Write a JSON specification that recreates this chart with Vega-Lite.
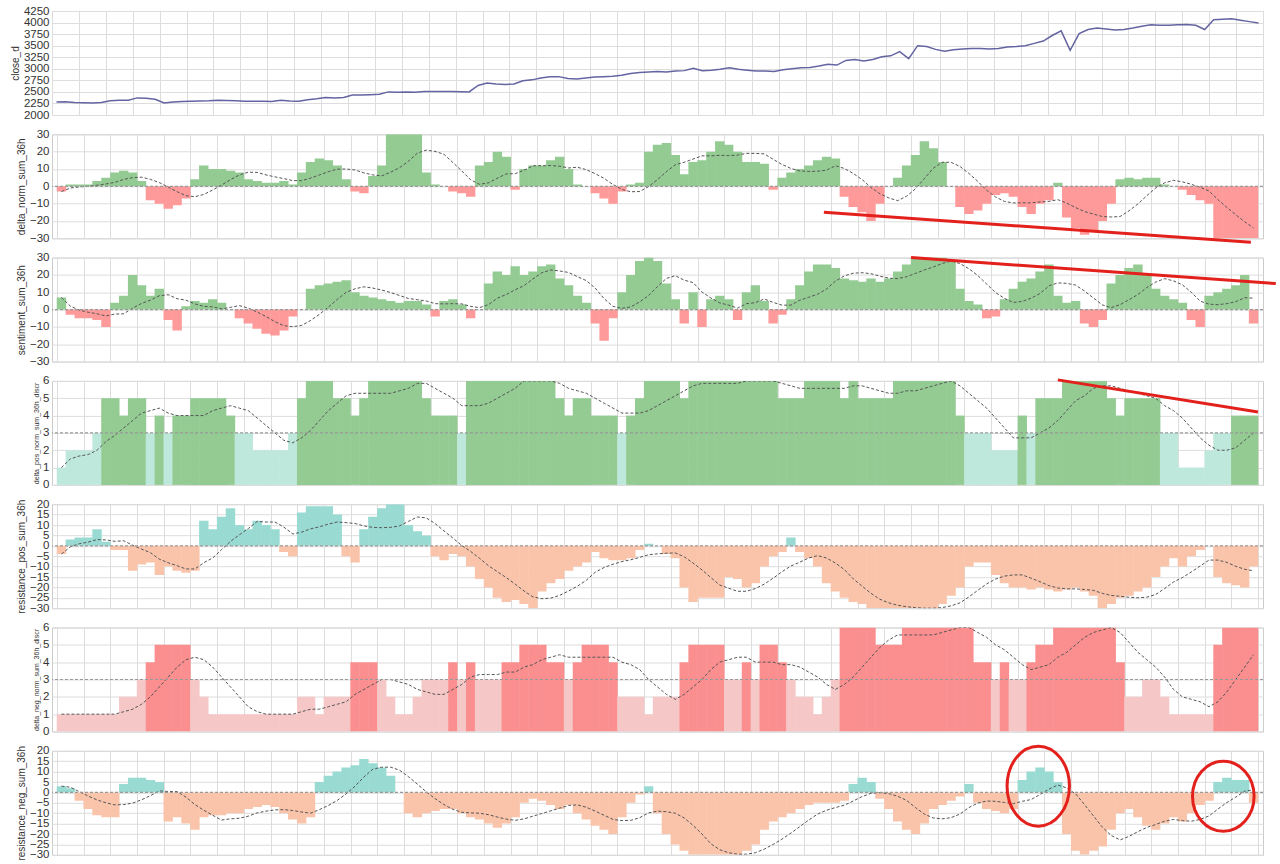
{
"$schema":"https://vega.github.io/schema/vega-lite/v6.json",
"background":"white",
"padding":{"left":9,"top":4,"right":0,"bottom":5},
"spacing":19.3,
"bounds":"flush",
"config":{
 "view":{"stroke":"#cccccc","strokeWidth":1},
 "font":"Liberation Sans",
 "axis":{"grid":true,"gridColor":"#dddddd","gridWidth":1,"domain":false,"ticks":false,"labelColor":"#333333","labelFontSize":11.5,"labelPadding":3,"labelOverlap":false,"labelBound":false,"titleFontWeight":"normal","titleColor":"#333333","titleFontSize":10,"titlePadding":3}
},
"datasets":{
"m":[
{"t":0,"c":2280,"d":-3,"s":7,"p":1,"r":-4,"n":1,"q":3},
{"t":1,"c":2285,"d":1,"s":-3,"p":2,"r":3,"n":1,"q":2},
{"t":2,"c":2270,"d":1,"s":-5,"p":2,"r":4,"n":1,"q":-4},
{"t":3,"c":2265,"d":1,"s":-5,"p":2,"r":4,"n":1,"q":-8},
{"t":4,"c":2260,"d":3,"s":-6,"p":3,"r":8,"n":1,"q":-11},
{"t":5,"c":2270,"d":5,"s":-10,"p":5,"r":2,"n":1,"q":-12},
{"t":6,"c":2310,"d":8,"s":4,"p":5,"r":-2,"n":1,"q":-12},
{"t":7,"c":2320,"d":9,"s":8,"p":4,"r":-2,"n":2,"q":4},
{"t":8,"c":2320,"d":8,"s":20,"p":5,"r":-12,"n":2,"q":7},
{"t":9,"c":2370,"d":3,"s":14,"p":5,"r":-9,"n":3,"q":7},
{"t":10,"c":2360,"d":-8,"s":8,"p":3,"r":-8,"n":4,"q":6},
{"t":11,"c":2340,"d":-10,"s":12,"p":4,"r":-14,"n":5,"q":5},
{"t":12,"c":2260,"d":-13,"s":-6,"p":3,"r":-10,"n":5,"q":-14},
{"t":13,"c":2280,"d":-11,"s":-12,"p":4,"r":-12,"n":5,"q":-12},
{"t":14,"c":2290,"d":-7,"s":2,"p":4,"r":-13,"n":5,"q":-15},
{"t":15,"c":2300,"d":4,"s":5,"p":5,"r":-12,"n":3,"q":-18},
{"t":16,"c":2305,"d":12,"s":4,"p":5,"r":12,"n":2,"q":-12},
{"t":17,"c":2310,"d":10,"s":6,"p":5,"r":8,"n":1,"q":-11},
{"t":18,"c":2320,"d":10,"s":4,"p":5,"r":14,"n":1,"q":-11},
{"t":19,"c":2315,"d":9,"s":0,"p":4,"r":18,"n":1,"q":-10},
{"t":20,"c":2310,"d":8,"s":-5,"p":3,"r":10,"n":1,"q":-10},
{"t":21,"c":2300,"d":4,"s":-8,"p":3,"r":8,"n":1,"q":-8},
{"t":22,"c":2300,"d":3,"s":-11,"p":2,"r":12,"n":1,"q":-7},
{"t":23,"c":2295,"d":2,"s":-14,"p":2,"r":10,"n":1,"q":-6},
{"t":24,"c":2290,"d":2,"s":-15,"p":2,"r":8,"n":1,"q":-7},
{"t":25,"c":2320,"d":3,"s":-12,"p":2,"r":-3,"n":1,"q":-10},
{"t":26,"c":2305,"d":1,"s":-4,"p":3,"r":-5,"n":1,"q":-13},
{"t":27,"c":2300,"d":8,"s":0,"p":5,"r":16,"n":2,"q":-15},
{"t":28,"c":2330,"d":14,"s":12,"p":6,"r":19,"n":2,"q":-12},
{"t":29,"c":2350,"d":16,"s":14,"p":6,"r":19,"n":1,"q":5},
{"t":30,"c":2380,"d":15,"s":15,"p":6,"r":19,"n":2,"q":8},
{"t":31,"c":2370,"d":12,"s":16,"p":5,"r":15,"n":2,"q":10},
{"t":32,"c":2380,"d":4,"s":17,"p":5,"r":-5,"n":2,"q":12},
{"t":33,"c":2430,"d":-3,"s":10,"p":4,"r":-8,"n":4,"q":13},
{"t":34,"c":2430,"d":-4,"s":8,"p":5,"r":8,"n":4,"q":16},
{"t":35,"c":2440,"d":6,"s":7,"p":6,"r":14,"n":4,"q":14},
{"t":36,"c":2450,"d":12,"s":6,"p":6,"r":18,"n":3,"q":12},
{"t":37,"c":2500,"d":30,"s":5,"p":6,"r":20,"n":2,"q":8},
{"t":38,"c":2490,"d":30,"s":4,"p":6,"r":20,"n":1,"q":0},
{"t":39,"c":2500,"d":30,"s":5,"p":6,"r":10,"n":1,"q":-10},
{"t":40,"c":2490,"d":30,"s":5,"p":6,"r":7,"n":2,"q":-12},
{"t":41,"c":2510,"d":8,"s":3,"p":5,"r":5,"n":3,"q":-10},
{"t":42,"c":2510,"d":1,"s":-4,"p":4,"r":-5,"n":3,"q":-9},
{"t":43,"c":2510,"d":0,"s":5,"p":4,"r":-7,"n":3,"q":-8},
{"t":44,"c":2510,"d":-3,"s":6,"p":4,"r":-4,"n":4,"q":-8},
{"t":45,"c":2505,"d":-4,"s":3,"p":3,"r":-5,"n":3,"q":-10},
{"t":46,"c":2500,"d":-6,"s":-5,"p":6,"r":-10,"n":4,"q":-12},
{"t":47,"c":2640,"d":12,"s":0,"p":6,"r":-16,"n":3,"q":-13},
{"t":48,"c":2690,"d":14,"s":15,"p":6,"r":-20,"n":3,"q":-15},
{"t":49,"c":2670,"d":20,"s":22,"p":6,"r":-25,"n":3,"q":-17},
{"t":50,"c":2660,"d":17,"s":20,"p":6,"r":-27,"n":4,"q":-15},
{"t":51,"c":2670,"d":-2,"s":25,"p":6,"r":-26,"n":4,"q":-12},
{"t":52,"c":2740,"d":10,"s":20,"p":6,"r":-28,"n":5,"q":-5},
{"t":53,"c":2760,"d":12,"s":22,"p":6,"r":-30,"n":5,"q":-3},
{"t":54,"c":2800,"d":12,"s":25,"p":6,"r":-22,"n":5,"q":-4},
{"t":55,"c":2830,"d":15,"s":26,"p":6,"r":-18,"n":4,"q":-6},
{"t":56,"c":2830,"d":17,"s":18,"p":5,"r":-16,"n":4,"q":-8},
{"t":57,"c":2790,"d":10,"s":14,"p":4,"r":-12,"n":3,"q":-6},
{"t":58,"c":2780,"d":1,"s":8,"p":5,"r":-10,"n":4,"q":-10},
{"t":59,"c":2800,"d":0,"s":4,"p":5,"r":-8,"n":5,"q":-13},
{"t":60,"c":2820,"d":-4,"s":-8,"p":4,"r":-3,"n":5,"q":-16},
{"t":61,"c":2830,"d":-7,"s":-18,"p":4,"r":-6,"n":5,"q":-18},
{"t":62,"c":2840,"d":-10,"s":-5,"p":4,"r":-7,"n":4,"q":-20},
{"t":63,"c":2860,"d":-3,"s":10,"p":3,"r":-7,"n":2,"q":-12},
{"t":64,"c":2900,"d":1,"s":20,"p":4,"r":-6,"n":2,"q":-5},
{"t":65,"c":2920,"d":2,"s":28,"p":5,"r":-2,"n":2,"q":-1},
{"t":66,"c":2930,"d":20,"s":30,"p":6,"r":1,"n":1,"q":3},
{"t":67,"c":2940,"d":24,"s":28,"p":6,"r":0,"n":2,"q":-10},
{"t":68,"c":2930,"d":25,"s":15,"p":6,"r":-4,"n":2,"q":-20},
{"t":69,"c":2950,"d":18,"s":6,"p":6,"r":-6,"n":2,"q":-25},
{"t":70,"c":2960,"d":7,"s":-8,"p":5,"r":-20,"n":4,"q":-28},
{"t":71,"c":3010,"d":14,"s":10,"p":6,"r":-27,"n":5,"q":-30},
{"t":72,"c":2960,"d":15,"s":-10,"p":6,"r":-25,"n":5,"q":-30},
{"t":73,"c":2970,"d":20,"s":6,"p":6,"r":-25,"n":5,"q":-30},
{"t":74,"c":2990,"d":26,"s":8,"p":6,"r":-25,"n":5,"q":-30},
{"t":75,"c":3020,"d":24,"s":6,"p":6,"r":-15,"n":3,"q":-30},
{"t":76,"c":2990,"d":20,"s":-6,"p":6,"r":-16,"n":3,"q":-30},
{"t":77,"c":2970,"d":14,"s":10,"p":6,"r":-20,"n":4,"q":-28},
{"t":78,"c":2950,"d":14,"s":14,"p":6,"r":-18,"n":3,"q":-25},
{"t":79,"c":2950,"d":13,"s":5,"p":6,"r":-10,"n":5,"q":-18},
{"t":80,"c":2940,"d":-2,"s":-8,"p":6,"r":-5,"n":5,"q":-14},
{"t":81,"c":2980,"d":5,"s":-3,"p":5,"r":-3,"n":4,"q":-12},
{"t":82,"c":3000,"d":8,"s":6,"p":5,"r":4,"n":3,"q":-10},
{"t":83,"c":3020,"d":10,"s":14,"p":5,"r":-3,"n":2,"q":-8},
{"t":84,"c":3030,"d":12,"s":22,"p":6,"r":-6,"n":2,"q":-6},
{"t":85,"c":3060,"d":15,"s":26,"p":6,"r":-10,"n":1,"q":-5},
{"t":86,"c":3100,"d":17,"s":26,"p":6,"r":-18,"n":2,"q":-5},
{"t":87,"c":3080,"d":16,"s":24,"p":6,"r":-22,"n":3,"q":-5},
{"t":88,"c":3180,"d":-6,"s":18,"p":5,"r":-25,"n":6,"q":-4},
{"t":89,"c":3200,"d":-12,"s":17,"p":6,"r":-27,"n":6,"q":4},
{"t":90,"c":3170,"d":-15,"s":16,"p":5,"r":-28,"n":6,"q":7},
{"t":91,"c":3200,"d":-20,"s":18,"p":5,"r":-30,"n":6,"q":5},
{"t":92,"c":3260,"d":-10,"s":16,"p":5,"r":-30,"n":5,"q":-3},
{"t":93,"c":3280,"d":0,"s":18,"p":5,"r":-30,"n":5,"q":-8},
{"t":94,"c":3370,"d":5,"s":22,"p":6,"r":-30,"n":5,"q":-14},
{"t":95,"c":3220,"d":12,"s":26,"p":6,"r":-30,"n":6,"q":-18},
{"t":96,"c":3500,"d":18,"s":30,"p":6,"r":-30,"n":6,"q":-20},
{"t":97,"c":3480,"d":26,"s":30,"p":6,"r":-30,"n":6,"q":-15},
{"t":98,"c":3420,"d":22,"s":30,"p":6,"r":-30,"n":6,"q":-8},
{"t":99,"c":3380,"d":14,"s":30,"p":6,"r":-28,"n":6,"q":-6},
{"t":100,"c":3410,"d":0,"s":28,"p":6,"r":-24,"n":6,"q":-4},
{"t":101,"c":3430,"d":-12,"s":12,"p":4,"r":-20,"n":6,"q":-2},
{"t":102,"c":3440,"d":-16,"s":5,"p":3,"r":-10,"n":6,"q":4},
{"t":103,"c":3440,"d":-14,"s":3,"p":3,"r":-8,"n":4,"q":-5},
{"t":104,"c":3430,"d":-10,"s":-5,"p":3,"r":-8,"n":4,"q":-8},
{"t":105,"c":3440,"d":-5,"s":-4,"p":2,"r":-14,"n":3,"q":-9},
{"t":106,"c":3470,"d":-4,"s":6,"p":2,"r":-18,"n":4,"q":-10},
{"t":107,"c":3480,"d":-6,"s":12,"p":2,"r":-20,"n":3,"q":-8},
{"t":108,"c":3500,"d":-12,"s":16,"p":4,"r":-20,"n":3,"q":6},
{"t":109,"c":3550,"d":-16,"s":18,"p":3,"r":-21,"n":4,"q":10},
{"t":110,"c":3600,"d":-10,"s":22,"p":5,"r":-20,"n":5,"q":12},
{"t":111,"c":3720,"d":-8,"s":26,"p":5,"r":-21,"n":5,"q":10},
{"t":112,"c":3820,"d":2,"s":8,"p":5,"r":-22,"n":6,"q":5},
{"t":113,"c":3400,"d":-18,"s":4,"p":6,"r":-21,"n":6,"q":-20},
{"t":114,"c":3760,"d":-24,"s":5,"p":6,"r":-20,"n":6,"q":-28},
{"t":115,"c":3850,"d":-28,"s":-8,"p":6,"r":-22,"n":6,"q":-30},
{"t":116,"c":3880,"d":-26,"s":-10,"p":6,"r":-24,"n":6,"q":-28},
{"t":117,"c":3860,"d":-20,"s":-6,"p":6,"r":-30,"n":6,"q":-26},
{"t":118,"c":3840,"d":-10,"s":15,"p":5,"r":-28,"n":6,"q":-18},
{"t":119,"c":3850,"d":4,"s":20,"p":4,"r":-25,"n":4,"q":-10},
{"t":120,"c":3880,"d":5,"s":24,"p":5,"r":-24,"n":2,"q":-8},
{"t":121,"c":3920,"d":4,"s":26,"p":5,"r":-22,"n":2,"q":-12},
{"t":122,"c":3950,"d":5,"s":20,"p":5,"r":-20,"n":3,"q":-16},
{"t":123,"c":3940,"d":5,"s":12,"p":5,"r":-15,"n":3,"q":-18},
{"t":124,"c":3940,"d":1,"s":8,"p":3,"r":-10,"n":2,"q":-15},
{"t":125,"c":3950,"d":0,"s":6,"p":3,"r":-6,"n":1,"q":-12},
{"t":126,"c":3960,"d":-2,"s":4,"p":1,"r":-10,"n":1,"q":-14},
{"t":127,"c":3940,"d":-5,"s":-6,"p":1,"r":-5,"n":1,"q":-10},
{"t":128,"c":3850,"d":-8,"s":-10,"p":1,"r":-2,"n":1,"q":-6},
{"t":129,"c":4060,"d":-10,"s":8,"p":2,"r":0,"n":1,"q":-4},
{"t":130,"c":4070,"d":-30,"s":10,"p":3,"r":-15,"n":5,"q":5},
{"t":131,"c":4080,"d":-30,"s":12,"p":3,"r":-18,"n":6,"q":7},
{"t":132,"c":4050,"d":-30,"s":14,"p":4,"r":-19,"n":6,"q":6},
{"t":133,"c":4020,"d":-30,"s":20,"p":4,"r":-20,"n":6,"q":6},
{"t":134,"c":3990,"d":-30,"s":-8,"p":4,"r":-10,"n":6,"q":-5}
],
"ann":[
{"id":"l2","x1":85.7,"x2":133.7,"y1":-15,"y2":-32.3},
{"id":"l3","x1":95.5,"x2":136.5,"y1":30,"y2":15.0},
{"id":"l4","x1":112,"x2":134.5,"y1":6.06,"y2":4.21},
{"id":"c1","x1":109.8,"y1":3},
{"id":"c2","x1":130.6,"y1":-1.8}
]
},
"data":{"name":"m"},
"vconcat":[
{
 "width":1211,"height":104,
 "mark":{"type":"line","color":"#6464a2","strokeWidth":1.5,"clip":true},
 "encoding":{
  "x":{"field":"t","type":"quantitative","scale":{"domain":[-0.5,134.5],"nice":false,"zero":false},"axis":{"values":[-0.5,2.5,5.5,8.5,11.5,14.5,17.5,20.5,23.5,26.5,29.5,32.5,35.5,38.5,41.5,44.5,47.5,50.5,53.5,56.5,59.5,62.5,65.5,68.5,71.5,74.5,77.5,80.5,83.5,86.5,89.5,92.5,95.5,98.5,101.5,104.5,107.5,110.5,113.5,116.5,119.5,122.5,125.5,128.5,131.5,134.5],"labels":false,"title":null}},
  "y":{"field":"c","type":"quantitative","scale":{"domain":[2000,4250],"nice":false,"zero":false},"axis":{"values":[2000,2250,2500,2750,3000,3250,3500,3750,4000,4250],"format":"d","title":"close_d"}}
 }
},
{
 "width":1211,"height":104,
 "encoding":{
  "x":{"field":"t","type":"quantitative","scale":{"domain":[-0.5,134.5],"nice":false,"zero":false},"axis":{"values":[-0.5,2.5,5.5,8.5,11.5,14.5,17.5,20.5,23.5,26.5,29.5,32.5,35.5,38.5,41.5,44.5,47.5,50.5,53.5,56.5,59.5,62.5,65.5,68.5,71.5,74.5,77.5,80.5,83.5,86.5,89.5,92.5,95.5,98.5,101.5,104.5,107.5,110.5,113.5,116.5,119.5,122.5,125.5,128.5,131.5,134.5],"labels":false,"title":null}},
  "y":{"field":"d","type":"quantitative","scale":{"domain":[-30,30],"nice":false},"axis":{"values":[-30,-20,-10,0,10,20,30],"title":"delta_norm_sum_36h"}}
 },
 "layer":[
  {"mark":{"type":"bar","width":9.4,"clip":true},
   "encoding":{"color":{"condition":{"test":"datum.d > 0","value":"#93cb93"},"value":"#ff9a9a"}}},
  {"transform":[{"window":[{"op":"mean","field":"d","as":"sm"}],"frame":[-6,0],"sort":[{"field":"t"}]}],
   "mark":{"type":"line","color":"#555555","strokeWidth":1,"strokeDash":[3,2],"clip":true},
   "encoding":{"y":{"field":"sm","type":"quantitative"}}},
  {"data":{"values":[{"z":0}]},"mark":{"type":"rule","color":"#999999","strokeDash":[3,2],"strokeWidth":1.2},"encoding":{"x":null,"y":{"field":"z","type":"quantitative"}}},
  {"data":{"name":"ann"},"transform":[{"filter":"datum.id == 'l2'"}],"mark":{"type":"rule","color":"#e3201b","strokeWidth":3,"clip":false},
   "encoding":{"x":{"field":"x1","type":"quantitative"},"x2":{"field":"x2"},"y":{"field":"y1","type":"quantitative"},"y2":{"field":"y2"}}}
 ]
},
{
 "width":1211,"height":104,
 "encoding":{
  "x":{"field":"t","type":"quantitative","scale":{"domain":[-0.5,134.5],"nice":false,"zero":false},"axis":{"values":[-0.5,2.5,5.5,8.5,11.5,14.5,17.5,20.5,23.5,26.5,29.5,32.5,35.5,38.5,41.5,44.5,47.5,50.5,53.5,56.5,59.5,62.5,65.5,68.5,71.5,74.5,77.5,80.5,83.5,86.5,89.5,92.5,95.5,98.5,101.5,104.5,107.5,110.5,113.5,116.5,119.5,122.5,125.5,128.5,131.5,134.5],"labels":false,"title":null}},
  "y":{"field":"s","type":"quantitative","scale":{"domain":[-30,30],"nice":false},"axis":{"values":[-30,-20,-10,0,10,20,30],"title":"sentiment_sum_36h"}}
 },
 "layer":[
  {"mark":{"type":"bar","width":9.4,"clip":true},
   "encoding":{"color":{"condition":{"test":"datum.s > 0","value":"#93cb93"},"value":"#ff9a9a"}}},
  {"transform":[{"window":[{"op":"mean","field":"s","as":"sm"}],"frame":[-6,0],"sort":[{"field":"t"}]}],
   "mark":{"type":"line","color":"#555555","strokeWidth":1,"strokeDash":[3,2],"clip":true},
   "encoding":{"y":{"field":"sm","type":"quantitative"}}},
  {"data":{"values":[{"z":0}]},"mark":{"type":"rule","color":"#999999","strokeDash":[3,2],"strokeWidth":1.2},"encoding":{"x":null,"y":{"field":"z","type":"quantitative"}}},
  {"data":{"name":"ann"},"transform":[{"filter":"datum.id == 'l3'"}],"mark":{"type":"rule","color":"#e3201b","strokeWidth":3,"clip":false},
   "encoding":{"x":{"field":"x1","type":"quantitative"},"x2":{"field":"x2"},"y":{"field":"y1","type":"quantitative"},"y2":{"field":"y2"}}}
 ]
},
{
 "width":1211,"height":104,
 "encoding":{
  "x":{"field":"t","type":"quantitative","scale":{"domain":[-0.5,134.5],"nice":false,"zero":false},"axis":{"values":[-0.5,2.5,5.5,8.5,11.5,14.5,17.5,20.5,23.5,26.5,29.5,32.5,35.5,38.5,41.5,44.5,47.5,50.5,53.5,56.5,59.5,62.5,65.5,68.5,71.5,74.5,77.5,80.5,83.5,86.5,89.5,92.5,95.5,98.5,101.5,104.5,107.5,110.5,113.5,116.5,119.5,122.5,125.5,128.5,131.5,134.5],"labels":false,"title":null}},
  "y":{"field":"p","type":"quantitative","scale":{"domain":[0,6],"nice":false},"axis":{"values":[0,1,2,3,4,5,6],"title":"delta_pos_norm_sum_36h_discr","titleFontSize":7}}
 },
 "layer":[
  {"mark":{"type":"bar","width":9.4,"clip":true},
   "encoding":{"color":{"condition":{"test":"datum.p > 3","value":"#93cb93"},"value":"#bfe8dc"}}},
  {"transform":[{"window":[{"op":"mean","field":"p","as":"sm"}],"frame":[-6,0],"sort":[{"field":"t"}]}],
   "mark":{"type":"line","color":"#555555","strokeWidth":1,"strokeDash":[3,2],"clip":true},
   "encoding":{"y":{"field":"sm","type":"quantitative"}}},
  {"data":{"values":[{"z":3}]},"mark":{"type":"rule","color":"#999999","strokeDash":[3,2],"strokeWidth":1.2},"encoding":{"x":null,"y":{"field":"z","type":"quantitative"}}},
  {"data":{"name":"ann"},"transform":[{"filter":"datum.id == 'l4'"}],"mark":{"type":"rule","color":"#e3201b","strokeWidth":3,"clip":false},
   "encoding":{"x":{"field":"x1","type":"quantitative"},"x2":{"field":"x2"},"y":{"field":"y1","type":"quantitative"},"y2":{"field":"y2"}}}
 ]
},
{
 "width":1211,"height":104,
 "encoding":{
  "x":{"field":"t","type":"quantitative","scale":{"domain":[-0.5,134.5],"nice":false,"zero":false},"axis":{"values":[-0.5,2.5,5.5,8.5,11.5,14.5,17.5,20.5,23.5,26.5,29.5,32.5,35.5,38.5,41.5,44.5,47.5,50.5,53.5,56.5,59.5,62.5,65.5,68.5,71.5,74.5,77.5,80.5,83.5,86.5,89.5,92.5,95.5,98.5,101.5,104.5,107.5,110.5,113.5,116.5,119.5,122.5,125.5,128.5,131.5,134.5],"labels":false,"title":null}},
  "y":{"field":"r","type":"quantitative","scale":{"domain":[-30,20],"nice":false},"axis":{"values":[-30,-25,-20,-15,-10,-5,0,5,10,15,20],"title":"resistance_pos_sum_36h"}}
 },
 "layer":[
  {"mark":{"type":"bar","width":9.4,"clip":true},
   "encoding":{"color":{"condition":{"test":"datum.r > 0","value":"#99dbd3"},"value":"#fac4ab"}}},
  {"transform":[{"window":[{"op":"mean","field":"r","as":"sm"}],"frame":[-6,0],"sort":[{"field":"t"}]}],
   "mark":{"type":"line","color":"#555555","strokeWidth":1,"strokeDash":[3,2],"clip":true},
   "encoding":{"y":{"field":"sm","type":"quantitative"}}},
  {"data":{"values":[{"z":0}]},"mark":{"type":"rule","color":"#999999","strokeDash":[3,2],"strokeWidth":1.2},"encoding":{"x":null,"y":{"field":"z","type":"quantitative"}}}
 ]
},
{
 "width":1211,"height":104,
 "encoding":{
  "x":{"field":"t","type":"quantitative","scale":{"domain":[-0.5,134.5],"nice":false,"zero":false},"axis":{"values":[-0.5,2.5,5.5,8.5,11.5,14.5,17.5,20.5,23.5,26.5,29.5,32.5,35.5,38.5,41.5,44.5,47.5,50.5,53.5,56.5,59.5,62.5,65.5,68.5,71.5,74.5,77.5,80.5,83.5,86.5,89.5,92.5,95.5,98.5,101.5,104.5,107.5,110.5,113.5,116.5,119.5,122.5,125.5,128.5,131.5,134.5],"labels":false,"title":null}},
  "y":{"field":"n","type":"quantitative","scale":{"domain":[0,6],"nice":false},"axis":{"values":[0,1,2,3,4,5,6],"title":"delta_neg_norm_sum_36h_discr","titleFontSize":7}}
 },
 "layer":[
  {"mark":{"type":"bar","width":9.4,"clip":true},
   "encoding":{"color":{"condition":{"test":"datum.n > 3","value":"#fb8f8f"},"value":"#f6c7c7"}}},
  {"transform":[{"window":[{"op":"mean","field":"n","as":"sm"}],"frame":[-6,0],"sort":[{"field":"t"}]}],
   "mark":{"type":"line","color":"#555555","strokeWidth":1,"strokeDash":[3,2],"clip":true},
   "encoding":{"y":{"field":"sm","type":"quantitative"}}},
  {"data":{"values":[{"z":3}]},"mark":{"type":"rule","color":"#999999","strokeDash":[3,2],"strokeWidth":1.2},"encoding":{"x":null,"y":{"field":"z","type":"quantitative"}}}
 ]
},
{
 "width":1211,"height":104,
 "encoding":{
  "x":{"field":"t","type":"quantitative","scale":{"domain":[-0.5,134.5],"nice":false,"zero":false},"axis":{"values":[-0.5,2.5,5.5,8.5,11.5,14.5,17.5,20.5,23.5,26.5,29.5,32.5,35.5,38.5,41.5,44.5,47.5,50.5,53.5,56.5,59.5,62.5,65.5,68.5,71.5,74.5,77.5,80.5,83.5,86.5,89.5,92.5,95.5,98.5,101.5,104.5,107.5,110.5,113.5,116.5,119.5,122.5,125.5,128.5,131.5,134.5],"labels":false,"title":null}},
  "y":{"field":"q","type":"quantitative","scale":{"domain":[-30,20],"nice":false},"axis":{"values":[-30,-25,-20,-15,-10,-5,0,5,10,15,20],"title":"resistance_neg_sum_36h"}}
 },
 "layer":[
  {"mark":{"type":"bar","width":9.4,"clip":true},
   "encoding":{"color":{"condition":{"test":"datum.q > 0","value":"#99dbd3"},"value":"#fac4ab"}}},
  {"transform":[{"window":[{"op":"mean","field":"q","as":"sm"}],"frame":[-6,0],"sort":[{"field":"t"}]}],
   "mark":{"type":"line","color":"#555555","strokeWidth":1,"strokeDash":[3,2],"clip":true},
   "encoding":{"y":{"field":"sm","type":"quantitative"}}},
  {"data":{"values":[{"z":0}]},"mark":{"type":"rule","color":"#999999","strokeDash":[3,2],"strokeWidth":1.2},"encoding":{"x":null,"y":{"field":"z","type":"quantitative"}}},
  {"data":{"name":"ann"},"transform":[{"filter":"datum.id == 'c1'"}],"mark":{"type":"point","shape":"M0,-1A0.78,1,0,1,1,0,1A0.78,1,0,1,1,0,-1Z","size":6400,"filled":false,"color":"#e3201b","strokeWidth":3,"opacity":1,"clip":false},
   "encoding":{"x":{"field":"x1","type":"quantitative"},"y":{"field":"y1","type":"quantitative"}}},
  {"data":{"name":"ann"},"transform":[{"filter":"datum.id == 'c2'"}],"mark":{"type":"point","shape":"M0,-1A0.88,1,0,1,1,0,1A0.88,1,0,1,1,0,-1Z","size":4900,"filled":false,"color":"#e3201b","strokeWidth":3,"opacity":1,"clip":false},
   "encoding":{"x":{"field":"x1","type":"quantitative"},"y":{"field":"y1","type":"quantitative"}}}
 ]
}
]
}
